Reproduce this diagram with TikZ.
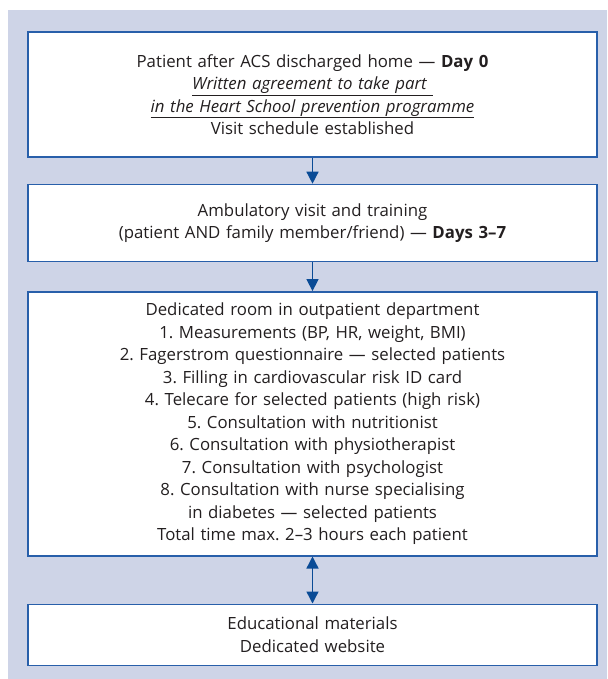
\documentclass[tikz,border=0pt]{standalone}
\usepackage{fontspec}
\setmainfont{Open Sans}
\usetikzlibrary{positioning,arrows.meta}
\definecolor{bgblue}{RGB}{206,212,231}
\definecolor{boxblue}{RGB}{40,95,170}
\definecolor{arrowblue}{RGB}{10,75,150}
\definecolor{txt}{RGB}{35,31,32}
\frenchspacing

\begin{document}
\begin{tikzpicture}[x=1pt,y=1pt,
                stagebox/.style={draw=boxblue, line width=1.4pt, fill=white,
                    minimum width=569pt, text width=560pt, align=center,
                    text=txt, font=\fontsize{16.8}{22.5}\selectfont, inner sep=0pt},
                flow/.style={draw=arrowblue, line width=1.4pt,
                    -{Triangle[length=12pt,width=12pt]}},
                both/.style={draw=arrowblue, line width=1.4pt,
                    {Triangle[length=12pt,width=12pt]}-{Triangle[length=12pt,width=12pt]}}]
                \useasboundingbox (0,0) rectangle (607,-679);
                \fill[bgblue] (8,-10) rectangle (607,-679);

                \node[stagebox, minimum height=125pt] (home) at (312.5,-94.5)
                    {Patient after ACS discharged home --- \textbf{Day 0}\\
                     \underline{\textit{Written agreement to take part }}\\
                     \underline{\textit{in the Heart School prevention programme}}\\
                     Visit schedule established};

                \node[stagebox, minimum height=77pt, below=26pt of home] (visit)
                    {Ambulatory visit and training\\
                     (patient AND family member/friend) --- \textbf{Days 3--7}};

                \node[stagebox, minimum height=264pt, below=29pt of visit] (room)
                    {Dedicated room in outpatient department\\
                     1. Measurements (BP, HR, weight, BMI)\\
                     2. Fagerstrom questionnaire --- selected patients\\
                     3. Filling in cardiovascular risk ID card\\
                     4. Telecare for selected patients (high risk)\\
                     5. Consultation with nutritionist\\
                     6. Consultation with physiotherapist\\
                     7. Consultation with psychologist\\
                     8. Consultation with nurse specialising\\
                     in diabetes --- selected patients\\
                     Total time max. 2--3 hours each patient};

                \node[stagebox, minimum height=61pt, below=47pt of room] (web)
                    {Educational materials\\
                     Dedicated website};

                \draw[flow] (home) -- (visit);
                \draw[flow] (visit) -- (room);
                \draw[both] (room) -- (web);
            \end{tikzpicture}
\end{document}
